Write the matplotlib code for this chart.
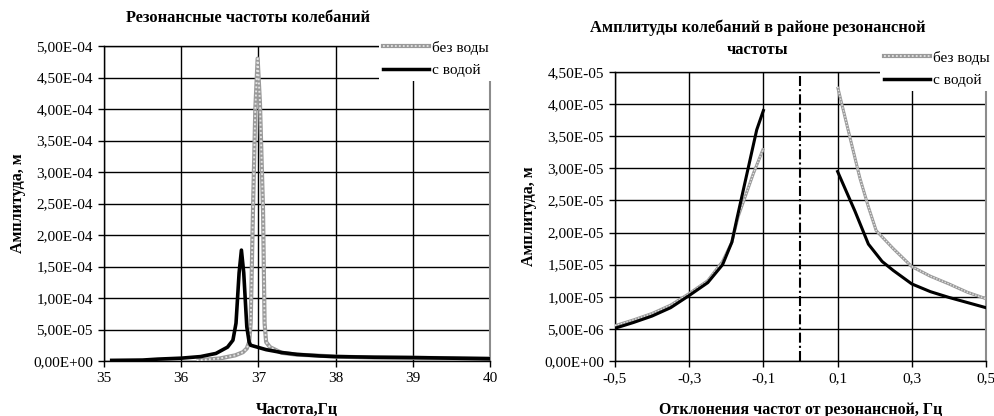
import matplotlib
matplotlib.use("Agg")
import matplotlib.pyplot as plt
from matplotlib.ticker import FuncFormatter, FixedLocator
from matplotlib.lines import Line2D

plt.rcParams['font.family'] = ['Liberation Serif', 'DejaVu Serif']
plt.rcParams['font.size'] = 11

# ---- Resonance spectra (frequency, Hz -> amplitude, m) ----
freq_dry = [36.2, 36.5, 36.7, 36.8, 36.85, 36.88, 36.9, 36.93, 36.96, 36.99,
            37.02, 37.06, 37.08, 37.1, 37.15, 37.3, 37.5, 37.7, 38.0, 38.5,
            39.0, 39.5, 40.0]
amp_dry = [1.0e-6, 4.0e-6, 9.0e-6, 1.4e-5, 2.0e-5, 3.0e-5, 6.0e-5, 2.4e-4, 4.0e-4, 4.8e-4,
           4.1e-4, 2.4e-4, 6.0e-5, 3.0e-5, 2.2e-5, 1.3e-5, 1.0e-5, 9.0e-6, 7.0e-6, 5.5e-6,
           5.0e-6, 4.5e-6, 4.0e-6]

freq_wet = [35.1, 35.5, 35.7, 36.0, 36.25, 36.45, 36.6, 36.67, 36.71, 36.75,
            36.78, 36.81, 36.85, 36.88, 36.9, 37.1, 37.3, 37.5, 37.8, 38.0,
            38.5, 39.0, 39.5, 40.0]
amp_wet = [1.0e-6, 1.5e-6, 3.0e-6, 4.5e-6, 7.0e-6, 1.2e-5, 2.2e-5, 3.3e-5, 6.0e-5, 1.4e-4,
           1.76e-4, 1.4e-4, 5.4e-5, 3.0e-5, 2.5e-5, 1.8e-5, 1.35e-5, 1.05e-5, 8.0e-6, 7.0e-6,
           6.0e-6, 5.5e-6, 4.5e-6, 3.5e-6]

# ---- Deviation from resonance (Hz -> amplitude, m) ----
dev_dry_lo = [-0.5, -0.45, -0.4, -0.35, -0.3, -0.25, -0.21, -0.185, -0.168, -0.127, -0.1]
amp_dry_lo = [5.5e-6, 6.4e-6, 7.4e-6, 8.7e-6, 1.05e-5, 1.25e-5, 1.55e-5, 1.85e-5, 2.25e-5, 2.92e-5, 3.31e-5]
dev_dry_hi = [0.1, 0.16, 0.183, 0.204, 0.25, 0.3, 0.35, 0.4, 0.45, 0.5]
amp_dry_hi = [4.27e-5, 2.85e-5, 2.4e-5, 2.03e-5, 1.75e-5, 1.47e-5, 1.32e-5, 1.2e-5, 1.07e-5, 9.7e-6]

dev_wet_lo = [-0.5, -0.45, -0.4, -0.35, -0.3, -0.25, -0.21, -0.185, -0.172, -0.118, -0.1]
amp_wet_lo = [5.1e-6, 6.0e-6, 7.0e-6, 8.3e-6, 1.02e-5, 1.22e-5, 1.5e-5, 1.85e-5, 2.2e-5, 3.6e-5, 3.9e-5]
dev_wet_hi = [0.1, 0.147, 0.183, 0.22, 0.25, 0.3, 0.35, 0.4, 0.45, 0.5]
amp_wet_hi = [2.95e-5, 2.33e-5, 1.82e-5, 1.55e-5, 1.41e-5, 1.2e-5, 1.08e-5, 9.9e-6, 9.1e-6, 8.3e-6]

label_dry = "без воды"
label_wet = "с водой"
left_xticks = [35, 36, 37, 38, 39, 40]
right_xticks = [-0.5, -0.3, -0.1, 0.1, 0.3, 0.5]

W, H = 995, 416
fig = plt.figure(figsize=(W / 100, H / 100), dpi=100)

TICK_FS = 11
LABEL_FS = 11.5
TITLE_FS = 11.8
LEGEND_FS = 11


def px_axes(x0, y0, x1, y1):
    return fig.add_axes([x0 / W, 1 - y1 / H, (x1 - x0) / W, (y1 - y0) / H])


sci = FuncFormatter(lambda v, p: f"{v:.2E}".replace('.', ','))


def style(ax):
    ax.grid(True, color='black', linewidth=1)
    ax.set_axisbelow(True)
    for s in ('left', 'bottom', 'top'):
        ax.spines[s].set_color('black')
        ax.spines[s].set_linewidth(1)
    ax.spines['right'].set_color('#8c8c8c')
    ax.spines['right'].set_linewidth(1.5)
    ax.tick_params(direction='out', length=4, width=1, labelsize=TICK_FS, pad=4)
    ax.yaxis.set_major_formatter(sci)


def textured(ax, x, y, lw, label=None):
    ax.plot(x, y, color='#9a9a9a', linewidth=lw, solid_capstyle='butt', label=label, zorder=3)
    ax.plot(x, y, color='#e4e4e4', linewidth=lw * 0.45, linestyle=(0, (1, 1.2)), zorder=3.1)


def legend(ax, x, y):
    h_dry = (Line2D([], [], color='#9a9a9a', linewidth=3),
             Line2D([], [], color='#e4e4e4', linewidth=1.3, linestyle=(0, (1, 1.2))))
    h_wet = Line2D([], [], color='black', linewidth=2.5)
    leg = ax.legend([h_dry, h_wet], [label_dry, label_wet], loc='upper left',
                    bbox_to_anchor=(x / W, 1 - y / H), bbox_transform=fig.transFigure,
                    frameon=True, facecolor='white', edgecolor='none', framealpha=1,
                    fancybox=False, borderpad=0.25, borderaxespad=0, handlelength=3.0,
                    handletextpad=0.25, labelspacing=0.55, fontsize=LEGEND_FS)
    leg.set_zorder(10)
    return leg


# ---- Left chart ----
ax1 = px_axes(104, 46, 490, 361)
style(ax1)
textured(ax1, freq_dry, amp_dry, 3.0)
ax1.plot(freq_wet, amp_wet, color='black', linewidth=2.6, zorder=4)
ax1.set_xlim(35, 40)
ax1.set_ylim(0, 5e-4)
ax1.xaxis.set_major_locator(FixedLocator(left_xticks))
ax1.yaxis.set_major_locator(FixedLocator([i * 5e-5 for i in range(11)]))
ax1.xaxis.set_major_formatter(FuncFormatter(lambda v, p: f"{v:g}"))
ax1.set_xlabel("Частота,Гц", fontweight='bold', fontsize=LABEL_FS, labelpad=12)
ax1.set_ylabel("Амплитуда, м", fontweight='bold', fontsize=LABEL_FS, labelpad=5)
legend(ax1, 379, 37)
fig.text(248 / W, 1 - 18 / H, "Резонансные частоты колебаний", ha='center', va='center',
         fontweight='bold', fontsize=TITLE_FS)

# ---- Right chart ----
ax2 = px_axes(615, 72, 986, 361)
style(ax2)
textured(ax2, dev_dry_lo, amp_dry_lo, 2.2)
textured(ax2, dev_dry_hi, amp_dry_hi, 2.2)
ax2.plot(dev_wet_lo, amp_wet_lo, color='black', linewidth=2.2, zorder=4)
ax2.plot(dev_wet_hi, amp_wet_hi, color='black', linewidth=2.2, zorder=4)
ax2.axvline(0, color='black', linewidth=1.5, linestyle=(0, (4.8, 1.5, 1, 1.5)), zorder=5)
ax2.set_xlim(-0.5, 0.5)
ax2.set_ylim(0, 4.5e-5)
ax2.xaxis.set_major_locator(FixedLocator(right_xticks))
ax2.yaxis.set_major_locator(FixedLocator([i * 5e-6 for i in range(10)]))
ax2.xaxis.set_major_formatter(FuncFormatter(lambda v, p: f"{v:.1f}".replace('.', ',')))
ax2.set_xlabel("Отклонения частот от резонансной, Гц", fontweight='bold', fontsize=LABEL_FS, labelpad=12)
ax2.set_ylabel("Амплитуда, м", fontweight='bold', fontsize=LABEL_FS, labelpad=5)
legend(ax2, 880, 47)
fig.text(758 / W, 1 - 39 / H, "Амплитуды колебаний в районе резонансной\nчастоты",
         ha='center', va='center', fontweight='bold', fontsize=TITLE_FS, linespacing=1.5)

fig.savefig("out.png", dpi=100)
